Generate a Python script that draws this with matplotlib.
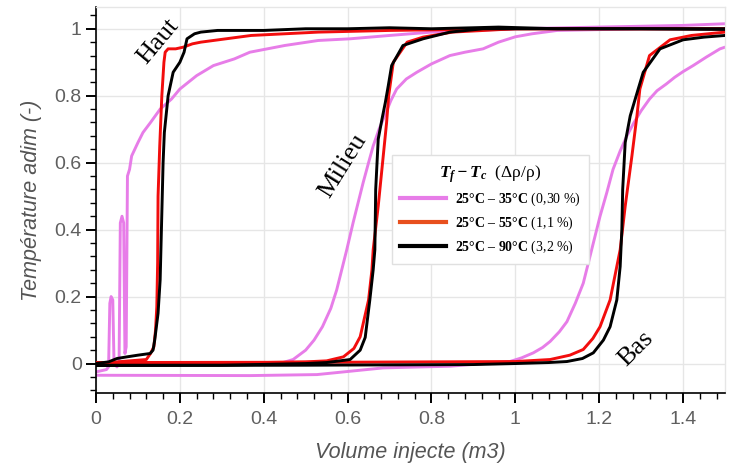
import matplotlib
matplotlib.use("Agg")
import matplotlib.pyplot as plt
from matplotlib.lines import Line2D
from matplotlib.ticker import MultipleLocator, FuncFormatter

plt.rcParams['mathtext.fontset'] = 'custom'
plt.rcParams['mathtext.rm'] = 'Liberation Serif'
plt.rcParams['mathtext.it'] = 'Liberation Serif:italic'
plt.rcParams['mathtext.bf'] = 'Liberation Serif:bold'
plt.rcParams['mathtext.bfit'] = 'Liberation Serif:italic:bold'

# ---------------- data ----------------
# Haut (top sensor)
haut_violet_x = [0, 0.025, 0.03, 0.033, 0.036, 0.04, 0.043, 0.05, 0.055, 0.058, 0.062, 0.066, 0.069,
                 0.072, 0.075, 0.08, 0.085, 0.1, 0.112, 0.13, 0.153, 0.18, 0.2, 0.24, 0.28, 0.33,
                 0.367, 0.45, 0.53, 0.606, 0.7, 0.8, 1.0, 1.2, 1.4, 1.5]
haut_violet_y = [-0.025, -0.018, -0.01, 0.18, 0.2, 0.19, 0.0, -0.01, 0.0, 0.42, 0.44, 0.42, 0.03,
                 0.05, 0.56, 0.58, 0.62, 0.66, 0.69, 0.72, 0.76, 0.79, 0.82, 0.86, 0.89, 0.91,
                 0.93, 0.95, 0.965, 0.97, 0.98, 0.99, 1.0, 1.005, 1.01, 1.015]
haut_red_x = [0, 0.05, 0.1, 0.12, 0.13, 0.138, 0.142, 0.145, 0.147, 0.148, 0.152, 0.157, 0.162,
              0.165, 0.172, 0.19, 0.208, 0.23, 0.25, 0.31, 0.37, 0.45, 0.53, 0.7, 1.0, 1.5]
haut_red_y = [0.0, 0.005, 0.01, 0.012, 0.03, 0.05, 0.1, 0.17, 0.3, 0.5, 0.65, 0.8, 0.9,
              0.93, 0.94, 0.94, 0.945, 0.955, 0.96, 0.97, 0.98, 0.985, 0.99, 0.995, 1.0, 1.0]
haut_black_x = [0, 0.03, 0.05, 0.074, 0.1, 0.129, 0.136, 0.14, 0.148, 0.153, 0.157, 0.16, 0.163,
                0.172, 0.184, 0.2, 0.21, 0.217, 0.235, 0.25, 0.29, 0.4, 0.5, 0.6, 0.7, 0.8, 0.9,
                0.96, 1.1, 1.3, 1.5]
haut_black_y = [0.0, 0.005, 0.015, 0.02, 0.025, 0.03, 0.04, 0.07, 0.15, 0.25, 0.45, 0.6, 0.69,
                0.8, 0.87, 0.9, 0.93, 0.97, 0.985, 0.99, 0.995, 0.995, 1.0, 1.0, 1.003, 1.0, 1.003,
                1.005, 1.0, 1.0, 0.998]

# Milieu (middle sensor)
milieu_violet_x = [0, 0.35, 0.446, 0.47, 0.5, 0.52, 0.54, 0.56, 0.574, 0.586, 0.598, 0.613, 0.625,
                   0.637, 0.65, 0.661, 0.675, 0.69, 0.703, 0.717, 0.74, 0.765, 0.8, 0.844, 0.88,
                   0.923, 0.96, 1.0, 1.04, 1.1, 1.3, 1.5]
milieu_violet_y = [-0.003, 0.0, 0.003, 0.012, 0.04, 0.07, 0.11, 0.165, 0.22, 0.28, 0.34, 0.42, 0.48,
                   0.54, 0.6, 0.65, 0.7, 0.745, 0.785, 0.82, 0.85, 0.87, 0.895, 0.92, 0.93,
                   0.94, 0.96, 0.976, 0.985, 0.995, 1.0, 1.0]
milieu_red_x = [0, 0.4, 0.5, 0.55, 0.59, 0.615, 0.63, 0.65, 0.658, 0.661, 0.673, 0.685, 0.693, 0.698,
                0.709, 0.742, 0.78, 0.85, 1.0, 1.5]
milieu_red_y = [0.003, 0.003, 0.005, 0.008, 0.02, 0.045, 0.08, 0.19, 0.28, 0.34, 0.47, 0.62, 0.72, 0.8,
                0.9, 0.96, 0.975, 0.99, 1.0, 1.0]
milieu_black_x = [0, 0.3, 0.5, 0.55, 0.606, 0.63, 0.642, 0.653, 0.661, 0.665, 0.667, 0.673, 0.682,
                  0.69, 0.697, 0.705, 0.732, 0.78, 0.844, 0.923, 1.1, 1.5]
milieu_black_y = [-0.005, -0.005, 0.0, 0.003, 0.012, 0.04, 0.078, 0.19, 0.28, 0.34, 0.52, 0.67, 0.73,
                  0.78, 0.83, 0.89, 0.95, 0.97, 0.99, 1.0, 1.0, 1.0]

# Bas (bottom sensor)
bas_violet_x = [0, 0.367, 0.527, 0.685, 0.844, 0.987, 1.015, 1.043, 1.065, 1.083, 1.105, 1.123,
                1.143, 1.162, 1.182, 1.202, 1.218, 1.233, 1.25, 1.266, 1.283, 1.3, 1.32, 1.338,
                1.36, 1.38, 1.4, 1.424, 1.455, 1.488, 1.5]
bas_violet_y = [-0.035, -0.036, -0.033, -0.013, -0.008, 0.006, 0.017, 0.032, 0.048, 0.066, 0.095, 0.125,
                0.18, 0.24, 0.34, 0.44, 0.51, 0.58, 0.635, 0.68, 0.72, 0.755, 0.79, 0.815,
                0.835, 0.855, 0.872, 0.89, 0.915, 0.94, 0.945]
bas_red_x = [0, 0.6, 1.0, 1.083, 1.13, 1.162, 1.185, 1.202, 1.226, 1.242, 1.25, 1.262, 1.278, 1.29,
             1.297, 1.32, 1.369, 1.42, 1.5]
bas_red_y = [0.003, 0.004, 0.006, 0.012, 0.025, 0.042, 0.075, 0.11, 0.19, 0.29, 0.34, 0.47, 0.62,
             0.74, 0.82, 0.92, 0.967, 0.98, 0.99]
bas_black_x = [0, 0.5, 0.9, 1.0, 1.08, 1.123, 1.16, 1.186, 1.21, 1.226, 1.242, 1.25, 1.254, 1.256,
               1.262, 1.274, 1.293, 1.305, 1.345, 1.4, 1.45, 1.5]
bas_black_y = [-0.006, -0.005, -0.003, 0.0, 0.003, 0.006, 0.015, 0.032, 0.07, 0.11, 0.19, 0.29, 0.4,
               0.52, 0.66, 0.74, 0.82, 0.87, 0.94, 0.967, 0.975, 0.98]

legend_labels = [r"$\mathbf{25°C\ –\ 35°C}$ (0,30 %)",
                 r"$\mathbf{25°C\ –\ 55°C}$ (1,1 %)",
                 r"$\mathbf{25°C\ –\ 90°C}$ (3,2 %)"]
legend_title = r"$\mathbfit{T_f - T_c}$  (Δρ/ρ)"
x_ticks = [0, 0.2, 0.4, 0.6, 0.8, 1, 1.2, 1.4]
y_ticks = [0, 0.2, 0.4, 0.6, 0.8, 1]

# ---------------- styling ----------------
C_VIOLET = '#E77DE8'
C_RED = '#F20D0D'
C_RED_LEG = '#E8501E'
C_BLACK = '#000000'
LW = 2.1

fig = plt.figure(figsize=(7.29, 4.72), dpi=100)
ax = fig.add_axes([96/729, 79/472, 629/729, 386/472])

series = [
    (haut_violet_x, haut_violet_y, C_VIOLET, 2),
    (milieu_violet_x, milieu_violet_y, C_VIOLET, 2),
    (bas_violet_x, bas_violet_y, C_VIOLET, 2),
    (haut_red_x, haut_red_y, C_RED, 3),
    (milieu_red_x, milieu_red_y, C_RED, 3),
    (bas_red_x, bas_red_y, C_RED, 3),
    (haut_black_x, haut_black_y, C_BLACK, 4),
    (milieu_black_x, milieu_black_y, C_BLACK, 4),
    (bas_black_x, bas_black_y, C_BLACK, 4),
]
for xs, ys, c, z in series:
    ax.plot(xs, ys, color=c, lw=LW, zorder=z, solid_joinstyle='round', solid_capstyle='round')

ax.set_xlim(0, 1.5)
ax.set_ylim(-0.088, 1.065)
ax.set_xticks(x_ticks)
ax.set_yticks(y_ticks)
fmt = FuncFormatter(lambda v, p: ('%g' % v))
ax.xaxis.set_major_formatter(fmt)
ax.yaxis.set_major_formatter(fmt)
ax.xaxis.set_minor_locator(MultipleLocator(0.04))
ax.yaxis.set_minor_locator(MultipleLocator(0.04))
ax.grid(True, which='major', color='#e6e6e6', lw=1.0, zorder=0)
ax.set_axisbelow(True)

for s in ['left', 'bottom']:
    ax.spines[s].set_color('black')
    ax.spines[s].set_linewidth(1.2)
for s in ['top', 'right']:
    ax.spines[s].set_color('#e6e6e6')
    ax.spines[s].set_linewidth(1.0)

ax.tick_params(which='major', direction='out', length=7.2, width=1.4, color='black',
               labelcolor='#5f5f5f', labelsize=14)
ax.tick_params(which='minor', direction='out', length=4.3, width=1.0, color='black')
ax.tick_params(axis='x', which='major', pad=6)
ax.tick_params(axis='y', which='major', pad=3)
for lab in ax.get_xticklabels() + ax.get_yticklabels():
    lab.set_family('Liberation Sans')

ax.set_xlabel('Volume injecte (m3)', fontsize=15.5, style='italic', color='#555555',
              family='Liberation Sans', labelpad=10)
ax.set_ylabel('Température adim (-)', fontsize=15.5, style='italic', color='#555555',
              family='Liberation Sans', labelpad=9)

# annotations
ax.text(0.148, 0.961, 'Haut', rotation=50, fontsize=19, family='Liberation Serif',
        ha='center', va='center', rotation_mode='anchor', zorder=6)
ax.text(0.589, 0.591, 'Milieu', rotation=58, fontsize=19, family='Liberation Serif',
        ha='center', va='center', rotation_mode='anchor', zorder=6)
ax.text(1.288, 0.045, 'Bas', rotation=45, fontsize=19, family='Liberation Serif',
        ha='center', va='center', rotation_mode='anchor', zorder=6)

handles = [Line2D([], [], color=C_VIOLET, lw=3.0),
           Line2D([], [], color=C_RED_LEG, lw=3.0),
           Line2D([], [], color=C_BLACK, lw=3.0)]
leg = ax.legend(handles, legend_labels, title=legend_title, loc='upper left',
                bbox_to_anchor=(0.4706, 0.617), borderaxespad=0, fancybox=False, framealpha=1,
                edgecolor='#e0e0e0', prop={'family': 'Liberation Serif', 'size': 10},
                title_fontproperties={'family': 'Liberation Serif', 'size': 12.5},
                handlelength=3.3, handletextpad=0.6, labelspacing=0.45, borderpad=0.6)
leg.set_zorder(10)
leg.get_frame().set_linewidth(1.0)

fig.savefig('out.png', dpi=100)
